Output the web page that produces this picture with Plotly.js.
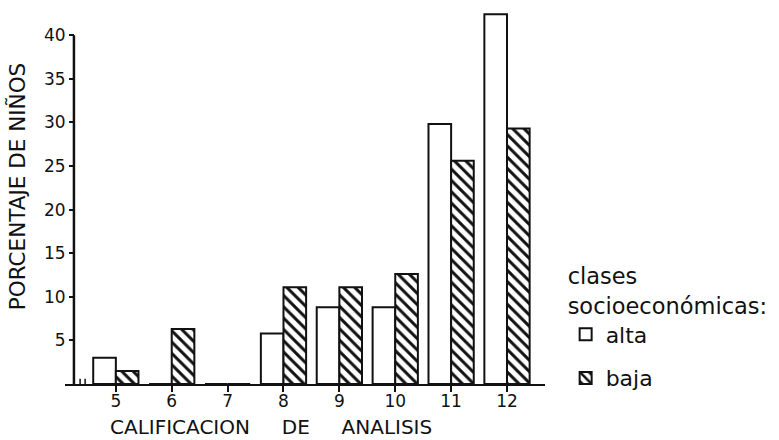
<!DOCTYPE html>
<html>
<head>
<meta charset="utf-8">
<script src="https://cdn.plot.ly/plotly-3.0.1.min.js"></script>
<style>html,body{margin:0;padding:0;background:#fff;}#chart{width:779px;height:440px;}</style>
</head>
<body>
<div id="chart"></div>
<script>
const calificaciones = [5, 6, 7, 8, 9, 10, 11, 12];
const tickLabels = ["5", "6", "7", "8", "9", "10", "11", "12"];
const alta = [3, 0, 0, 5.8, 8.8, 8.8, 29.8, 42.4];
const baja = [1.5, 6.3, 0, 11.1, 11.1, 12.6, 25.6, 29.3];
const yTicks = [5, 10, 15, 20, 25, 30, 35, 40];

const FONT = "DejaVu Sans";
const ink = "#111";
const NB = "\u00a0\u00a0\u00a0\u00a0\u00a0";

const traces = [
  {
    type: "bar", name: "alta", x: calificaciones, y: alta,
    legendgroup: "a",
    marker: {color: "#ffffff", line: {color: ink, width: 2}},
    hoverinfo: "skip"
  },
  {
    type: "bar", name: "baja", x: calificaciones, y: baja,
    legendgroup: "b",
    marker: {color: "#ffffff", line: {color: ink, width: 2},
      pattern: {shape: "\\", fgcolor: ink, bgcolor: "#ffffff", size: 8, solidity: 0.38}},
    hoverinfo: "skip"
  }
];

const layout = {
  width: 779, height: 440,
  margin: {l: 65, r: 232, t: 9, b: 56},
  paper_bgcolor: "#ffffff", plot_bgcolor: "#ffffff",
  font: {family: FONT, color: ink, size: 18},
  barmode: "group", bargap: 0.19, bargroupgap: 0,
  showlegend: true,
  legend: {
    x: 1.043, xanchor: "left", y: 0.344, yanchor: "top",
    bgcolor: "rgba(0,0,0,0)",
    font: {family: FONT, size: 22, color: ink},
    title: {text: "clases<br>socioeconómicas:", font: {family: FONT, size: 22.5, color: ink}},
    tracegroupgap: 12,
    itemclick: false, itemdoubleclick: false
  },
  xaxis: {
    range: [4.09, 12.68],
    tickmode: "array", tickvals: calificaciones, ticktext: tickLabels,
    ticks: "outside", ticklen: 6, tickwidth: 2, tickcolor: ink,
    ticklabelstandoff: -5,
    showline: true, linecolor: ink, linewidth: 2,
    showgrid: false, zeroline: false,
    tickfont: {family: FONT, size: 17, color: ink},
    fixedrange: true
  },
  yaxis: {
    range: [0, 43],
    anchor: "free", position: 0.0187,
    tickmode: "array", tickvals: yTicks,
    ticks: "outside", ticklen: 5, tickwidth: 2, tickcolor: ink,
    showline: false, showgrid: false, zeroline: false,
    tickfont: {family: FONT, size: 17, color: ink},
    fixedrange: true
  },
  shapes: [
    {type: "line", xref: "x", yref: "y", x0: 4.25, x1: 4.25, y0: -0.7, y1: 40, line: {color: ink, width: 2.5}},
    {type: "line", xref: "x", yref: "y", x0: 4.36, x1: 4.36, y0: -0.6, y1: 0.6, line: {color: ink, width: 1.5}},
    {type: "line", xref: "x", yref: "y", x0: 4.45, x1: 4.45, y0: -0.6, y1: 0.6, line: {color: ink, width: 1.5}}
  ],
  annotations: [
    {text: "CALIFICACION" + NB + "DE" + NB + "ANALISIS", xref: "paper", yref: "paper",
     x: (272 - 65) / 482, y: (384 - 427) / 375, xanchor: "center", yanchor: "middle",
     showarrow: false, font: {family: FONT, size: 20, color: ink}},
    {text: "PORCENTAJE DE NIÑOS", xref: "paper", yref: "paper",
     x: (17 - 65) / 482, y: (384 - 187) / 375, xanchor: "center", yanchor: "middle",
     textangle: -90, showarrow: false, font: {family: FONT, size: 21.5, color: ink}}
  ]
};

Plotly.newPlot("chart", traces, layout, {displayModeBar: false, staticPlot: true});
</script>
</body>
</html>
